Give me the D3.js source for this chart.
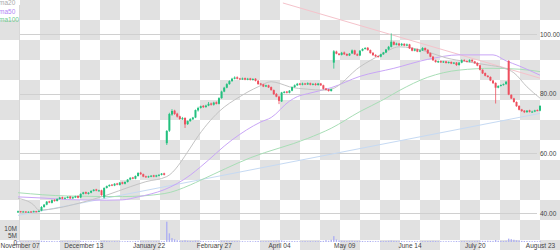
<!DOCTYPE html>
<html>
<meta charset="utf-8">
<style>

body {
  margin: 0;
}

svg {
  display: block;
}

svg text,
.axis {
  font: 6.5px "Liberation Sans", Arial, sans-serif;
}

.grid line {
  stroke: #d0d0d0;
  shape-rendering: crispEdges;
}

.axis text {
  fill: #444;
}

.ma {
  fill: none;
  stroke-width: 1px;
}

</style>
<body>
<script src="https://d3js.org/d3.v7.min.js"></script>
<script>

// trading days, Nov 07 -> Aug 23 (index 0..200)
var tickIdx = [0, 25, 50, 75, 100, 125, 150, 175, 200];
var tickLabels = ["November 07", "December 13", "January 22", "February 27", "April 04",
                  "May 09", "June 14", "July 20", "August 23"];

var priceTicks = [40, 60, 80, 100];
var volTicks = [0, 5, 10];

var opens = [
  40.2, 40.6, 40.3, 40.5, 40.2, 40.5, 40.3, 40.6, 40.4, 40.8,
  42.0, 42.8, 43.9, 43.4, 44.4, 44.0, 44.7, 45.3, 44.8, 45.0,
  45.5, 44.9, 45.2, 45.7, 45.2, 46.4, 47.0, 46.4, 46.8, 47.4,
  47.9, 47.4, 47.6, 45.2, 48.4, 49.0, 49.5, 49.2, 49.9, 49.4,
  50.3, 49.8, 50.4, 51.2, 51.9, 51.5, 52.4, 53.5, 53.0, 52.3,
  52.0, 52.2, 52.6, 52.2, 52.5, 52.8, 53.3, 63.4, 67.6, 73.0,
  74.3, 73.3, 72.4, 71.4, 71.9, 69.8, 70.8, 71.4, 72.0, 74.4,
  75.2, 75.9, 75.5, 76.0, 76.7, 76.3, 77.1, 76.6, 78.5, 80.7,
  82.0, 83.2, 84.2, 85.0, 85.5, 85.1, 84.8, 85.2, 84.7, 85.1,
  84.6, 85.0, 84.3, 83.4, 83.1, 82.4, 82.8, 82.2, 81.2, 79.9,
  79.0, 77.4, 80.3, 80.7, 80.3, 81.0, 82.2, 82.8, 83.4, 83.0,
  83.4, 83.1, 83.5, 83.0, 83.3, 82.9, 83.4, 82.8, 81.7, 81.4,
  80.9, 90.4, 94.1, 93.4, 93.0, 93.8, 93.3, 92.8, 93.5, 94.5,
  93.2, 92.8, 94.4, 95.0, 95.4, 94.6, 93.7, 93.0, 92.6, 92.4,
  93.2, 93.8, 94.8, 95.7, 97.3, 96.4, 96.8, 96.2, 96.7, 96.1,
  96.5, 95.3, 94.4, 94.9, 94.1, 94.5, 95.3, 94.7, 93.6, 92.4,
  91.2, 90.5, 90.9, 90.5, 90.8, 90.3, 90.6, 90.1, 90.4, 89.6,
  90.4, 91.3, 91.0, 90.7, 91.3, 90.8, 90.3, 89.5, 88.0, 86.9,
  86.0, 85.6, 84.4, 83.6, 82.0, 82.6, 82.9, 83.2, 91.0, 79.6,
  78.4, 77.2, 75.9, 74.7, 74.3, 73.8, 74.4, 73.8, 74.0, 74.5,
  74.3
];

var closes = [
  40.6, 40.3, 40.5, 40.2, 40.4, 40.3, 40.6, 40.4, 40.7, 42.0,
  42.8, 43.8, 43.5, 44.3, 44.0, 44.7, 45.2, 44.8, 45.1, 45.4,
  44.9, 45.3, 45.6, 45.1, 46.4, 46.9, 46.5, 46.8, 47.4, 47.8,
  47.5, 47.6, 46.0, 48.4, 49.0, 49.4, 49.2, 49.8, 49.5, 50.2,
  49.8, 50.4, 51.2, 51.8, 51.5, 52.4, 53.4, 53.0, 52.2, 52.0,
  52.3, 52.5, 52.2, 52.6, 52.8, 53.2, 52.8, 67.5, 73.2, 74.2,
  73.2, 72.3, 71.5, 71.8, 69.7, 70.8, 71.5, 72.0, 74.5, 75.2,
  75.8, 75.5, 76.0, 76.6, 76.3, 77.0, 76.6, 78.5, 80.7, 82.0,
  83.2, 84.2, 85.0, 85.4, 85.0, 84.9, 85.1, 84.7, 85.0, 84.6,
  84.9, 84.3, 83.2, 83.0, 82.4, 82.8, 82.1, 81.2, 79.8, 79.0,
  77.6, 80.4, 80.6, 80.3, 81.0, 82.2, 82.8, 83.3, 83.0, 83.4,
  83.1, 83.5, 83.0, 83.3, 82.9, 83.4, 82.8, 81.6, 81.3, 80.9,
  81.5, 94.2, 93.4, 93.0, 93.7, 93.2, 92.8, 93.4, 94.5, 93.2,
  92.8, 94.4, 95.0, 95.3, 94.6, 93.6, 92.9, 92.5, 92.4, 93.2,
  93.8, 94.8, 95.7, 97.4, 96.4, 96.8, 96.2, 96.7, 96.1, 96.5,
  95.2, 94.4, 94.9, 94.1, 94.5, 95.3, 94.6, 93.5, 92.4, 91.2,
  90.6, 90.9, 90.5, 90.8, 90.3, 90.6, 90.1, 90.4, 89.6, 90.4,
  91.2, 91.0, 90.7, 91.3, 90.8, 90.2, 89.4, 88.0, 86.8, 86.0,
  85.6, 84.4, 83.5, 82.0, 82.6, 82.9, 83.2, 84.0, 79.7, 78.4,
  77.2, 75.8, 74.6, 74.2, 73.8, 74.3, 73.9, 74.0, 74.4, 74.3,
  75.9
];

var highs = [
  40.8, 40.7, 40.7, 40.6, 40.6, 40.6, 40.8, 40.7, 40.9, 42.3,
  43.0, 44.0, 44.1, 44.5, 44.6, 44.9, 45.4, 45.5, 45.3, 45.6,
  45.7, 45.5, 45.8, 45.9, 46.6, 47.1, 47.2, 47.0, 47.6, 48.0,
  48.1, 47.8, 47.8, 48.6, 49.2, 49.6, 49.7, 50.0, 50.1, 50.4,
  50.5, 50.6, 51.4, 52.0, 52.1, 52.6, 53.7, 53.8, 53.2, 52.5,
  52.5, 52.7, 52.8, 52.8, 53.0, 53.4, 53.5, 67.8, 73.6, 74.8,
  74.6, 73.6, 72.6, 72.2, 72.0, 71.0, 71.8, 72.2, 74.7, 75.6,
  76.0, 76.2, 76.3, 77.2, 77.0, 77.3, 77.4, 78.8, 81.0, 82.3,
  83.5, 84.5, 85.3, 85.8, 85.8, 85.3, 85.4, 85.4, 85.3, 85.3,
  85.2, 85.2, 84.6, 83.6, 83.3, 83.0, 83.0, 82.4, 81.4, 80.2,
  79.3, 80.6, 80.9, 80.9, 81.2, 82.4, 83.1, 83.6, 83.6, 83.7,
  83.6, 83.8, 83.7, 83.5, 83.6, 83.6, 83.6, 83.0, 81.9, 81.6,
  81.7, 94.6, 94.4, 93.6, 94.0, 94.1, 93.5, 93.6, 94.8, 94.7,
  93.5, 94.6, 95.2, 95.6, 95.6, 94.8, 93.9, 93.2, 92.8, 93.4,
  94.0, 95.0, 96.0, 100.2, 97.6, 97.1, 97.0, 97.0, 96.9, 96.8,
  96.7, 95.6, 95.1, 95.1, 94.8, 95.6, 95.5, 94.9, 93.8, 92.6,
  91.4, 91.1, 91.1, 91.0, 91.0, 90.8, 90.8, 90.6, 90.6, 90.6,
  91.5, 91.5, 91.2, 91.5, 91.5, 91.0, 90.5, 89.7, 88.2, 87.1,
  86.2, 85.8, 84.6, 83.8, 82.8, 83.1, 83.4, 84.2, 91.2, 79.8,
  78.6, 77.4, 76.1, 74.9, 74.5, 74.5, 74.6, 74.3, 74.6, 74.7,
  76.1
];

var lows = [
  40.0, 40.1, 40.2, 40.0, 40.1, 40.1, 40.2, 40.2, 40.3, 40.6,
  41.8, 42.6, 43.3, 43.2, 43.8, 43.9, 44.5, 44.6, 44.6, 44.9,
  44.7, 44.7, 45.0, 44.9, 45.0, 46.2, 46.3, 46.2, 46.6, 47.2,
  47.3, 47.2, 45.8, 44.9, 48.2, 48.8, 49.0, 49.0, 49.3, 49.2,
  49.6, 49.6, 50.2, 51.0, 51.3, 51.3, 52.2, 52.8, 52.0, 51.8,
  51.8, 52.0, 52.0, 52.0, 52.3, 52.6, 52.6, 62.8, 67.2, 72.6,
  72.9, 72.0, 71.2, 71.2, 68.5, 69.5, 70.6, 71.2, 71.8, 74.0,
  75.0, 75.2, 75.3, 75.8, 76.0, 76.0, 76.4, 76.4, 78.3, 80.5,
  81.8, 83.0, 84.0, 84.8, 84.8, 84.6, 84.6, 84.5, 84.5, 84.4,
  84.4, 84.1, 83.0, 82.8, 82.2, 82.2, 81.9, 81.0, 79.6, 78.8,
  76.5, 77.2, 80.1, 80.1, 80.1, 80.8, 82.0, 82.6, 82.8, 82.8,
  82.9, 82.9, 82.8, 82.8, 82.7, 82.7, 82.6, 81.4, 81.1, 80.7,
  80.7, 88.4, 93.2, 92.8, 92.8, 93.0, 92.6, 92.6, 93.3, 93.0,
  92.6, 92.6, 94.2, 94.8, 94.4, 93.4, 92.7, 92.3, 92.1, 92.2,
  93.0, 93.6, 94.6, 95.5, 96.2, 96.2, 96.0, 96.0, 95.9, 95.9,
  95.0, 94.2, 94.2, 93.9, 93.9, 94.3, 94.4, 93.3, 92.2, 91.0,
  90.4, 90.3, 90.3, 90.3, 90.1, 90.1, 89.9, 89.9, 89.3, 89.4,
  90.2, 90.8, 90.5, 90.5, 90.6, 90.0, 89.2, 87.8, 86.6, 85.8,
  85.4, 84.2, 83.3, 76.7, 81.8, 82.4, 82.7, 83.0, 79.5, 78.2,
  77.0, 75.6, 74.4, 73.9, 73.5, 73.6, 73.7, 73.6, 73.8, 74.1,
  74.1
];

// volume in millions
var volumes = [
  0.6, 0.5, 0.4, 0.5, 0.6, 0.4, 0.5, 0.5, 0.6, 0.9,
  0.8, 0.7, 0.6, 0.7, 0.5, 0.6, 0.7, 0.6, 0.5, 0.6,
  0.5, 0.6, 0.7, 0.5, 0.8, 0.7, 0.6, 0.5, 0.7, 0.6,
  0.5, 0.5, 0.7, 0.9, 0.7, 0.6, 0.5, 0.6, 0.5, 0.6,
  0.5, 0.6, 0.7, 0.6, 0.5, 0.7, 0.8, 0.6, 0.5, 0.5,
  0.6, 0.5, 0.5, 0.6, 0.5, 0.6, 0.7, 14.5, 6.2, 2.8,
  1.9, 1.3, 1.0, 0.9, 1.2, 0.9, 0.8, 0.7, 1.0, 0.9,
  0.8, 0.7, 0.6, 0.7, 0.6, 0.7, 0.6, 0.8, 0.9, 0.8,
  0.8, 0.7, 0.7, 0.6, 0.6, 0.5, 0.6, 0.5, 0.5, 0.6,
  0.5, 0.6, 0.7, 0.6, 0.5, 0.6, 0.6, 0.7, 0.8, 0.9,
  1.0, 1.1, 0.8, 0.6, 0.6, 0.7, 0.6, 0.6, 0.5, 0.5,
  0.6, 0.5, 0.6, 0.5, 0.6, 0.6, 0.7, 0.8, 1.3, 0.9,
  1.6, 4.2, 1.8, 1.2, 0.9, 0.8, 0.7, 0.8, 0.9, 0.7,
  0.7, 0.8, 0.7, 0.6, 0.7, 0.7, 0.6, 0.6, 0.6, 0.7,
  0.6, 0.7, 0.8, 1.0, 0.8, 0.7, 0.6, 0.7, 0.6, 0.6,
  0.7, 0.6, 0.6, 0.6, 0.5, 0.6, 0.6, 0.7, 0.7, 0.8,
  0.7, 0.6, 0.6, 0.5, 0.6, 0.6, 0.5, 0.6, 0.7, 0.6,
  0.6, 0.6, 0.5, 0.6, 0.6, 0.7, 0.8, 0.9, 0.8, 0.8,
  0.9, 0.8, 0.8, 1.4, 0.9, 0.8, 0.7, 0.9, 2.4, 2.0,
  1.6, 1.2, 1.0, 0.8, 0.7, 0.7, 0.6, 0.6, 0.7, 0.6,
  0.8
];

// moving averages, read at sample days
var ma20Idx = [0, 6, 8, 23, 34, 43, 49, 57, 66, 68, 77, 85, 92, 97, 100, 104, 111, 117, 120,
               131, 139, 146, 151, 157, 164, 172, 180, 186, 190, 195, 200];
var ma20 = [44.9, 42.7, 41.0, 43.2, 46.0, 48.8, 50.5, 52.2, 61.8, 64.5, 74.0, 79.0, 82.3, 84.0,
            83.5, 82.3, 81.5, 81.2, 81.5, 89.0, 93.0, 95.7, 95.3, 94.0, 92.0, 90.7, 89.6, 88.6,
            87.0, 82.3, 78.5];

var ma50Idx = [0, 10, 19, 34, 40, 46, 51, 56, 66, 70, 82, 93, 97, 104, 107, 111, 120, 131,
               144, 157, 169, 182, 187, 192, 200];
var ma50 = [45.4, 45.0, 44.5, 44.3, 44.4, 45.4, 46.4, 47.8, 52.7, 55.5, 64.5, 70.5, 72.0, 77.5,
            79.0, 80.0, 82.0, 85.8, 88.5, 91.5, 93.0, 93.0, 91.0, 89.3, 86.2];

var ma100Idx = [0, 19, 40, 56, 66, 70, 89, 111, 120, 131, 140, 146, 157, 169, 182, 192, 200];
var ma100 = [46.8, 45.7, 45.5, 46.5, 49.4, 51.0, 58.5, 65.0, 68.4, 74.0, 78.0, 81.0, 85.5, 87.9,
             88.5, 88.2, 87.4];

// trend lines [startIdx, startPrice, endIdx, endPrice]
var resistance = [101.5, 110.4, 200, 85.2];
var support = [0, 39.2, 200, 73.4];

var width = 560,
    height = 250,
    left = 19,
    right = 537;

var x = d3.scaleLinear().domain([0, 200]).range([18, 540]);
var y = d3.scaleLinear().domain([40, 100]).range([213, 34]);
var v = d3.scaleLinear().domain([0, 10]).range([242, 228]);

var svg = d3.select("body").append("svg")
    .attr("width", width)
    .attr("height", height)
    .style("background", "#fff");

// transparency checkerboard backdrop, 20px squares
var cells = [];
for (var r = 0; r * 20 < height; r++) {
  for (var c = 0; c * 20 < width; c++) {
    if ((r + c) % 2 === 1) cells.push({cx: c * 20, cy: r * 20});
  }
}

svg.append("g")
    .attr("class", "checker")
  .selectAll("rect")
  .data(cells)
  .enter().append("rect")
    .attr("x", function(d) { return d.cx; })
    .attr("y", function(d) { return d.cy; })
    .attr("width", 20)
    .attr("height", 20)
    .style("fill", "#e1e1e1");

// price grid + right labels
svg.append("g")
    .attr("class", "axis grid")
    .attr("transform", "translate(" + right + ",0)")
    .call(d3.axisRight(y)
        .tickValues(priceTicks)
        .tickSizeInner(-(right - left))
        .tickSizeOuter(0)
        .tickPadding(3)
        .tickFormat(d3.format(".2f")))
    .call(function(g) { g.select(".domain").remove(); });

svg.append("line")
    .attr("x1", left + 0.5)
    .attr("x2", left + 0.5)
    .attr("y1", 5)
    .attr("y2", 242)
    .attr("stroke", "#d8d8d8");

// volume
svg.append("g")
  .selectAll("rect")
  .data(volumes)
  .join("rect")
    .attr("x", function(d, i) { return x(i) - 0.7; })
    .attr("y", function(d) { return v(d); })
    .attr("width", 1.4)
    .attr("height", function(d) { return v(0) - v(d); })
    .attr("fill", "#aeb0f2");

svg.append("g")
    .attr("class", "axis")
    .attr("transform", "translate(" + (left - 1) + ",0)")
    .call(d3.axisLeft(v)
        .tickValues(volTicks)
        .tickSize(0)
        .tickPadding(1)
        .tickFormat(function(d) { return d ? d + "M" : "0"; }))
    .call(function(g) { g.select(".domain").remove(); });

// dates
var dateAxis = svg.append("g")
    .attr("class", "axis")
    .attr("transform", "translate(0,242)")
    .call(d3.axisBottom(x)
        .tickValues(tickIdx)
        .tickSize(0)
        .tickPadding(1)
        .tickFormat(function(d, i) { return tickLabels[i]; }))
    .call(function(g) { g.select(".domain").remove(); });

// first label is pushed inside the left edge
dateAxis.select(".tick text")
    .attr("text-anchor", "start")
    .attr("x", -x(0));

// trend lines
var plot = svg.append("g");

[[resistance, "#f5c3cb"], [support, "#c6daf3"]].forEach(function(t) {
  plot.append("line")
      .attr("x1", x(t[0][0]))
      .attr("y1", y(t[0][1]))
      .attr("x2", x(t[0][2]))
      .attr("y2", y(t[0][3]))
      .attr("stroke", t[1])
      .attr("stroke-width", 1);
});

// moving averages
var maLine = function(idx) {
  return d3.line()
      .curve(d3.curveMonotoneX)
      .x(function(d, i) { return x(idx[i]); })
      .y(function(d) { return y(d); });
};

plot.append("path").attr("class", "ma").attr("stroke", "#a8deb6").attr("d", maLine(ma100Idx)(ma100));
plot.append("path").attr("class", "ma").attr("stroke", "#c9a6f7").attr("d", maLine(ma50Idx)(ma50));
plot.append("path").attr("class", "ma").attr("stroke", "#c4c4c4").attr("d", maLine(ma20Idx)(ma20));

// candles
var candles = plot.append("g")
  .selectAll("g")
  .data(closes)
  .join("g")
    .attr("fill", function(d, i) { return d >= opens[i] ? "#22c07e" : "#ee4f5e"; })
    .attr("stroke", function(d, i) { return d >= opens[i] ? "#22c07e" : "#ee4f5e"; });

candles.append("line")
    .attr("x1", function(d, i) { return x(i); })
    .attr("x2", function(d, i) { return x(i); })
    .attr("y1", function(d, i) { return y(highs[i]); })
    .attr("y2", function(d, i) { return y(lows[i]); })
    .attr("stroke-width", 0.8);

candles.append("rect")
    .attr("stroke", "none")
    .attr("x", function(d, i) { return x(i) - 1; })
    .attr("width", 2)
    .attr("y", function(d, i) { return y(Math.max(d, opens[i])); })
    .attr("height", function(d, i) { return Math.max(1, Math.abs(y(d) - y(opens[i]))); });

// legend
var legend = [["ma20", "#aaaaaa"], ["ma50", "#b385f5"], ["ma100", "#6fcb90"]];
svg.append("g")
  .selectAll("text")
  .data(legend)
  .join("text")
    .attr("x", -1)
    .attr("y", function(d, i) { return 5 + i * 8.5; })
    .attr("fill", function(d) { return d[1]; })
    .text(function(d) { return d[0]; });

</script>
</body>
</html>
